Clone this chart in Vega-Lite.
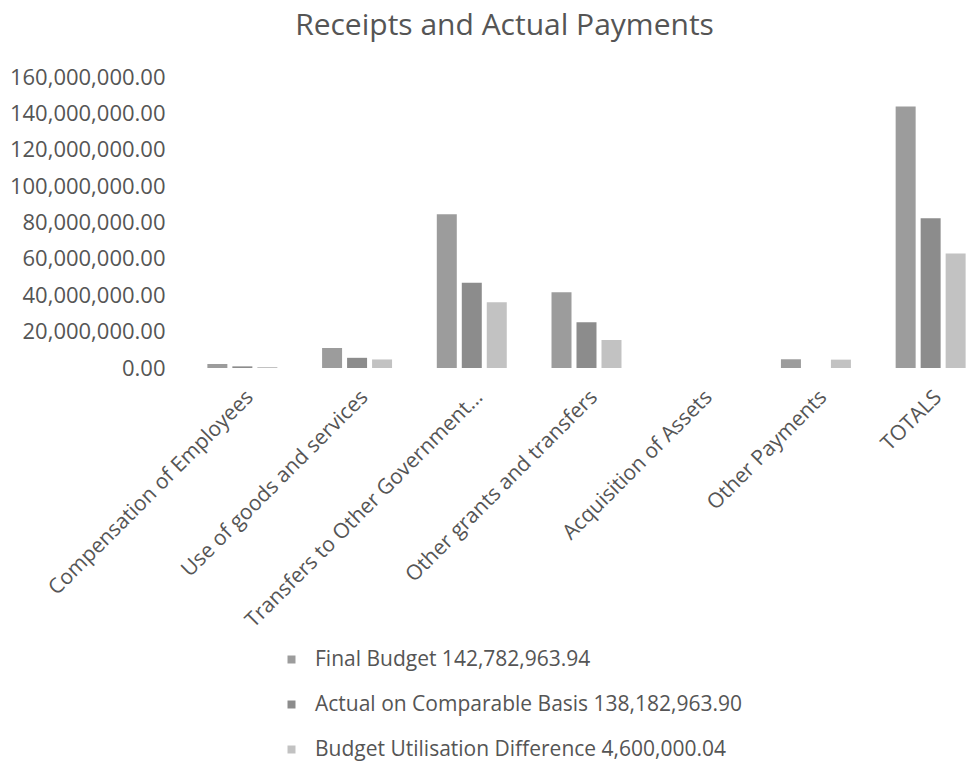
{
  "$schema": "https://vega.github.io/schema/vega-lite/v6.json",
  "autosize": {"type": "none"},
  "width": 791,
  "height": 291,
  "padding": {"left": 185, "top": 77, "right": 0, "bottom": 395},
  "background": "white",
  "config": {"view": {"stroke": null}},
  "title": {"text": "Receipts and Actual Payments", "anchor": "middle", "frame": "group", "dx": -76, "offset": 25, "fontSize": 30, "font": "Open Sans", "fontWeight": "normal", "color": "#555555"},
  "data": {"values": [
    {"category": "Compensation of Employees", "series": "Final Budget  142,782,963.94", "value": 2200000},
    {"category": "Compensation of Employees", "series": "Actual on Comparable Basis  138,182,963.90", "value": 900000},
    {"category": "Compensation of Employees", "series": "Budget Utilisation Difference  4,600,000.04", "value": 500000},
    {"category": "Use of goods and services", "series": "Final Budget  142,782,963.94", "value": 11000000},
    {"category": "Use of goods and services", "series": "Actual on Comparable Basis  138,182,963.90", "value": 5600000},
    {"category": "Use of goods and services", "series": "Budget Utilisation Difference  4,600,000.04", "value": 4700000},
    {"category": "Transfers to Other Government…", "series": "Final Budget  142,782,963.94", "value": 84500000},
    {"category": "Transfers to Other Government…", "series": "Actual on Comparable Basis  138,182,963.90", "value": 46900000},
    {"category": "Transfers to Other Government…", "series": "Budget Utilisation Difference  4,600,000.04", "value": 36100000},
    {"category": "Other grants and transfers", "series": "Final Budget  142,782,963.94", "value": 41600000},
    {"category": "Other grants and transfers", "series": "Actual on Comparable Basis  138,182,963.90", "value": 25100000},
    {"category": "Other grants and transfers", "series": "Budget Utilisation Difference  4,600,000.04", "value": 15400000},
    {"category": "Acquisition of Assets", "series": "Final Budget  142,782,963.94", "value": 0},
    {"category": "Acquisition of Assets", "series": "Actual on Comparable Basis  138,182,963.90", "value": 0},
    {"category": "Acquisition of Assets", "series": "Budget Utilisation Difference  4,600,000.04", "value": 0},
    {"category": "Other Payments", "series": "Final Budget  142,782,963.94", "value": 4800000},
    {"category": "Other Payments", "series": "Actual on Comparable Basis  138,182,963.90", "value": 0},
    {"category": "Other Payments", "series": "Budget Utilisation Difference  4,600,000.04", "value": 4600000},
    {"category": "TOTALS", "series": "Final Budget  142,782,963.94", "value": 143800000},
    {"category": "TOTALS", "series": "Actual on Comparable Basis  138,182,963.90", "value": 82300000},
    {"category": "TOTALS", "series": "Budget Utilisation Difference  4,600,000.04", "value": 63000000}
  ]},
  "mark": {"type": "bar"},
  "encoding": {
    "x": {
      "field": "category", "type": "nominal", "sort": null,
      "scale": {"range": [0, 803], "paddingInner": 0.39, "paddingOuter": 0.195},
      "axis": {"title": null, "labelAngle": -45, "domain": false, "ticks": false, "labelFontSize": 21, "labelFont": "Open Sans", "labelColor": "#555555", "labelPadding": 18, "labelLimit": 400}
    },
    "xOffset": {"field": "series", "type": "nominal", "sort": null, "scale": {"paddingInner": 0.2, "paddingOuter": 0}},
    "y": {
      "field": "value", "type": "quantitative",
      "scale": {"domain": [0, 160000000], "nice": false},
      "axis": {"title": null, "format": ",.2f", "values": [0, 20000000, 40000000, 60000000, 80000000, 100000000, 120000000, 140000000, 160000000], "grid": false, "domain": false, "ticks": false, "labelPadding": 20, "labelFontSize": 22, "labelFont": "Open Sans", "labelColor": "#555555"}
    },
    "color": {
      "field": "series", "type": "nominal", "sort": null,
      "scale": {"range": ["#9c9c9c", "#8c8c8c", "#c2c2c2"]},
      "legend": {"title": null, "orient": "none", "legendX": 96, "legendY": 572, "direction": "vertical", "symbolType": "square", "symbolSize": 64, "symbolStrokeWidth": 0, "labelFontSize": 21, "labelFont": "Open Sans", "labelColor": "#555555", "rowPadding": 23, "labelOffset": 13, "labelLimit": 500}
    }
  }
}
